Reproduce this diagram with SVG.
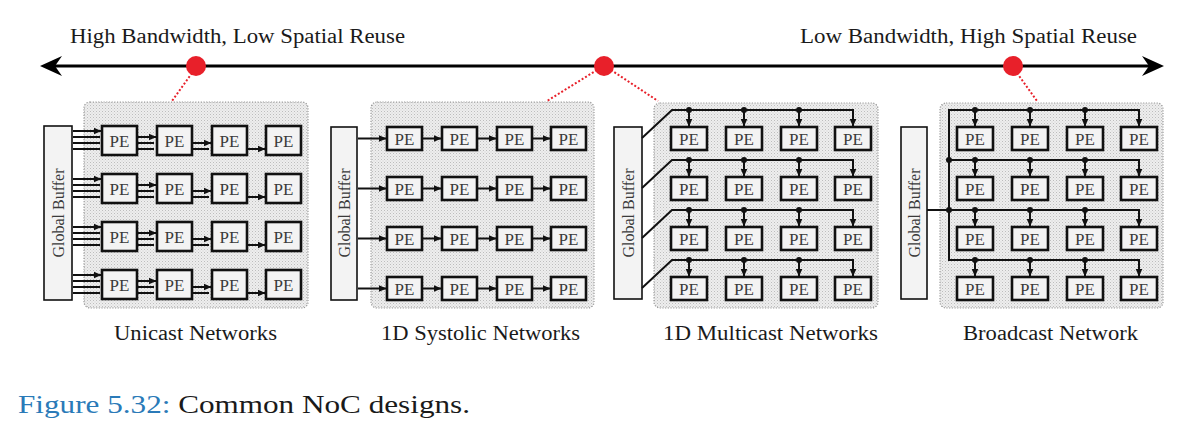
<svg xmlns="http://www.w3.org/2000/svg" width="1204" height="427" viewBox="0 0 1204 427">
<style>
.t{font-family:"Liberation Serif","Times New Roman",serif;fill:#1a1a1a}
.pe{fill:#f3f3f3;stroke:#111;stroke-width:2.6}
.pet{font-family:"Liberation Serif","Times New Roman",serif;font-size:17px;fill:#3a3a3a;text-anchor:middle}
.gb{fill:#f3f3f3;stroke:#111;stroke-width:1.6}
.gbt{font-family:"Liberation Serif","Times New Roman",serif;font-size:16px;fill:#3a3a3a;text-anchor:middle}
.bg{fill:url(#stip);stroke:#9a9a9a;stroke-width:1.2;stroke-dasharray:1.2 1.5}
.c{stroke:#111;stroke-width:2;fill:none}
.ca{stroke:#111;stroke-width:2;fill:none;marker-end:url(#ah)}
.red{stroke:#e8202a;stroke-width:2;stroke-dasharray:2 2;fill:none}
.dot{fill:#111}
</style>
<defs>
<pattern id="stip" width="3" height="3" patternUnits="userSpaceOnUse">
<rect width="3" height="3" fill="#eeeeee"/>
<rect width="1" height="1" fill="#bdbdbd"/>
<rect x="1.5" y="1.5" width="1" height="1" fill="#d0d0d0"/>
</pattern>
<marker id="ah" markerWidth="8" markerHeight="8" refX="7.5" refY="4" orient="auto" markerUnits="userSpaceOnUse">
<path d="M0,0.5 L8,4 L0,7.5 Z" fill="#111"/>
</marker>
</defs>

<g id="axis">
<line x1="52" y1="66" x2="1152" y2="66" stroke="#000" stroke-width="3"/>
<path d="M40,66 L62,56 L55,66 L62,76 Z" fill="#000"/>
<path d="M1164,66 L1142,56 L1149,66 L1142,76 Z" fill="#000"/>
<text class="t" x="70" y="43" font-size="20" textLength="335" lengthAdjust="spacingAndGlyphs">High Bandwidth, Low Spatial Reuse</text>
<text class="t" x="800" y="43" font-size="20" textLength="337" lengthAdjust="spacingAndGlyphs">Low Bandwidth, High Spatial Reuse</text>
</g>

<g id="panels">
<rect class="bg" x="84" y="102" width="224" height="206" rx="6"/>
<rect class="bg" x="371" y="102" width="223" height="206" rx="6"/>
<rect class="bg" x="654" y="103" width="224" height="205" rx="6"/>
<rect class="bg" x="940" y="103" width="223" height="205" rx="6"/>
</g>

<g id="markers-red">
<line class="red" x1="192" y1="73" x2="172" y2="101"/>
<line class="red" x1="597" y1="70" x2="547" y2="101"/>
<line class="red" x1="611" y1="70" x2="658" y2="101"/>
<line class="red" x1="1017" y1="73" x2="1037" y2="101"/>
<circle cx="196" cy="66" r="10" fill="#e8202a"/>
<circle cx="604" cy="66" r="10" fill="#e8202a"/>
<circle cx="1013" cy="66" r="10" fill="#e8202a"/>
</g>

<!-- Unicast -->
<g id="u-gb"><rect class="gb" x="44" y="126" width="28" height="174"/><text class="gbt" transform="translate(63.5,213) rotate(-90)">Global Buffer</text></g>
<g id="u-pe-1-1"><rect class="pe" x="102" y="126" width="35" height="29"/><text class="pet" x="119.5" y="146.5">PE</text></g>
<g id="u-pe-1-2"><rect class="pe" x="157" y="126" width="35" height="29"/><text class="pet" x="174.5" y="146.5">PE</text></g>
<g id="u-pe-1-3"><rect class="pe" x="212" y="126" width="35" height="29"/><text class="pet" x="229.5" y="146.5">PE</text></g>
<g id="u-pe-1-4"><rect class="pe" x="266" y="126" width="35" height="29"/><text class="pet" x="283.5" y="146.5">PE</text></g>
<g id="u-pe-2-1"><rect class="pe" x="102" y="174" width="35" height="29"/><text class="pet" x="119.5" y="194.5">PE</text></g>
<g id="u-pe-2-2"><rect class="pe" x="157" y="174" width="35" height="29"/><text class="pet" x="174.5" y="194.5">PE</text></g>
<g id="u-pe-2-3"><rect class="pe" x="212" y="174" width="35" height="29"/><text class="pet" x="229.5" y="194.5">PE</text></g>
<g id="u-pe-2-4"><rect class="pe" x="266" y="174" width="35" height="29"/><text class="pet" x="283.5" y="194.5">PE</text></g>
<g id="u-pe-3-1"><rect class="pe" x="102" y="222" width="35" height="29"/><text class="pet" x="119.5" y="242.5">PE</text></g>
<g id="u-pe-3-2"><rect class="pe" x="157" y="222" width="35" height="29"/><text class="pet" x="174.5" y="242.5">PE</text></g>
<g id="u-pe-3-3"><rect class="pe" x="212" y="222" width="35" height="29"/><text class="pet" x="229.5" y="242.5">PE</text></g>
<g id="u-pe-3-4"><rect class="pe" x="266" y="222" width="35" height="29"/><text class="pet" x="283.5" y="242.5">PE</text></g>
<g id="u-pe-4-1"><rect class="pe" x="102" y="270" width="35" height="29"/><text class="pet" x="119.5" y="290.5">PE</text></g>
<g id="u-pe-4-2"><rect class="pe" x="157" y="270" width="35" height="29"/><text class="pet" x="174.5" y="290.5">PE</text></g>
<g id="u-pe-4-3"><rect class="pe" x="212" y="270" width="35" height="29"/><text class="pet" x="229.5" y="290.5">PE</text></g>
<g id="u-pe-4-4"><rect class="pe" x="266" y="270" width="35" height="29"/><text class="pet" x="283.5" y="290.5">PE</text></g>

<!-- Systolic -->
<g id="s-gb"><rect class="gb" x="331" y="127" width="26" height="173"/><text class="gbt" transform="translate(349.5,213) rotate(-90)">Global Buffer</text></g>
<g id="s-pe-1-1"><rect class="pe" x="387" y="127" width="35" height="23"/><text class="pet" x="404.5" y="144.5">PE</text></g>
<g id="s-pe-1-2"><rect class="pe" x="442" y="127" width="35" height="23"/><text class="pet" x="459.5" y="144.5">PE</text></g>
<g id="s-pe-1-3"><rect class="pe" x="497" y="127" width="35" height="23"/><text class="pet" x="514.5" y="144.5">PE</text></g>
<g id="s-pe-1-4"><rect class="pe" x="551" y="127" width="35" height="23"/><text class="pet" x="568.5" y="144.5">PE</text></g>
<g id="s-pe-2-1"><rect class="pe" x="387" y="177" width="35" height="23"/><text class="pet" x="404.5" y="194.5">PE</text></g>
<g id="s-pe-2-2"><rect class="pe" x="442" y="177" width="35" height="23"/><text class="pet" x="459.5" y="194.5">PE</text></g>
<g id="s-pe-2-3"><rect class="pe" x="497" y="177" width="35" height="23"/><text class="pet" x="514.5" y="194.5">PE</text></g>
<g id="s-pe-2-4"><rect class="pe" x="551" y="177" width="35" height="23"/><text class="pet" x="568.5" y="194.5">PE</text></g>
<g id="s-pe-3-1"><rect class="pe" x="387" y="227" width="35" height="23"/><text class="pet" x="404.5" y="244.5">PE</text></g>
<g id="s-pe-3-2"><rect class="pe" x="442" y="227" width="35" height="23"/><text class="pet" x="459.5" y="244.5">PE</text></g>
<g id="s-pe-3-3"><rect class="pe" x="497" y="227" width="35" height="23"/><text class="pet" x="514.5" y="244.5">PE</text></g>
<g id="s-pe-3-4"><rect class="pe" x="551" y="227" width="35" height="23"/><text class="pet" x="568.5" y="244.5">PE</text></g>
<g id="s-pe-4-1"><rect class="pe" x="387" y="277" width="35" height="23"/><text class="pet" x="404.5" y="294.5">PE</text></g>
<g id="s-pe-4-2"><rect class="pe" x="442" y="277" width="35" height="23"/><text class="pet" x="459.5" y="294.5">PE</text></g>
<g id="s-pe-4-3"><rect class="pe" x="497" y="277" width="35" height="23"/><text class="pet" x="514.5" y="294.5">PE</text></g>
<g id="s-pe-4-4"><rect class="pe" x="551" y="277" width="35" height="23"/><text class="pet" x="568.5" y="294.5">PE</text></g>

<!-- Multicast -->
<g id="m-gb"><rect class="gb" x="614" y="127" width="28" height="172"/><text class="gbt" transform="translate(633.5,213) rotate(-90)">Global Buffer</text></g>
<g id="m-pe-1-1"><rect class="pe" x="671" y="127" width="36" height="23"/><text class="pet" x="689" y="144.5">PE</text></g>
<g id="m-pe-1-2"><rect class="pe" x="726" y="127" width="36" height="23"/><text class="pet" x="744" y="144.5">PE</text></g>
<g id="m-pe-1-3"><rect class="pe" x="781" y="127" width="36" height="23"/><text class="pet" x="799" y="144.5">PE</text></g>
<g id="m-pe-1-4"><rect class="pe" x="835" y="127" width="36" height="23"/><text class="pet" x="853" y="144.5">PE</text></g>
<g id="m-pe-2-1"><rect class="pe" x="671" y="177" width="36" height="23"/><text class="pet" x="689" y="194.5">PE</text></g>
<g id="m-pe-2-2"><rect class="pe" x="726" y="177" width="36" height="23"/><text class="pet" x="744" y="194.5">PE</text></g>
<g id="m-pe-2-3"><rect class="pe" x="781" y="177" width="36" height="23"/><text class="pet" x="799" y="194.5">PE</text></g>
<g id="m-pe-2-4"><rect class="pe" x="835" y="177" width="36" height="23"/><text class="pet" x="853" y="194.5">PE</text></g>
<g id="m-pe-3-1"><rect class="pe" x="671" y="227" width="36" height="23"/><text class="pet" x="689" y="244.5">PE</text></g>
<g id="m-pe-3-2"><rect class="pe" x="726" y="227" width="36" height="23"/><text class="pet" x="744" y="244.5">PE</text></g>
<g id="m-pe-3-3"><rect class="pe" x="781" y="227" width="36" height="23"/><text class="pet" x="799" y="244.5">PE</text></g>
<g id="m-pe-3-4"><rect class="pe" x="835" y="227" width="36" height="23"/><text class="pet" x="853" y="244.5">PE</text></g>
<g id="m-pe-4-1"><rect class="pe" x="671" y="277" width="36" height="23"/><text class="pet" x="689" y="294.5">PE</text></g>
<g id="m-pe-4-2"><rect class="pe" x="726" y="277" width="36" height="23"/><text class="pet" x="744" y="294.5">PE</text></g>
<g id="m-pe-4-3"><rect class="pe" x="781" y="277" width="36" height="23"/><text class="pet" x="799" y="294.5">PE</text></g>
<g id="m-pe-4-4"><rect class="pe" x="835" y="277" width="36" height="23"/><text class="pet" x="853" y="294.5">PE</text></g>

<!-- Broadcast -->
<g id="b-gb"><rect class="gb" x="901" y="127" width="26" height="172"/><text class="gbt" transform="translate(919.5,213) rotate(-90)">Global Buffer</text></g>
<g id="b-pe-1-1"><rect class="pe" x="957" y="127" width="36" height="23"/><text class="pet" x="975" y="144.5">PE</text></g>
<g id="b-pe-1-2"><rect class="pe" x="1012" y="127" width="36" height="23"/><text class="pet" x="1030" y="144.5">PE</text></g>
<g id="b-pe-1-3"><rect class="pe" x="1067" y="127" width="36" height="23"/><text class="pet" x="1085" y="144.5">PE</text></g>
<g id="b-pe-1-4"><rect class="pe" x="1121" y="127" width="36" height="23"/><text class="pet" x="1139" y="144.5">PE</text></g>
<g id="b-pe-2-1"><rect class="pe" x="957" y="177" width="36" height="23"/><text class="pet" x="975" y="194.5">PE</text></g>
<g id="b-pe-2-2"><rect class="pe" x="1012" y="177" width="36" height="23"/><text class="pet" x="1030" y="194.5">PE</text></g>
<g id="b-pe-2-3"><rect class="pe" x="1067" y="177" width="36" height="23"/><text class="pet" x="1085" y="194.5">PE</text></g>
<g id="b-pe-2-4"><rect class="pe" x="1121" y="177" width="36" height="23"/><text class="pet" x="1139" y="194.5">PE</text></g>
<g id="b-pe-3-1"><rect class="pe" x="957" y="227" width="36" height="23"/><text class="pet" x="975" y="244.5">PE</text></g>
<g id="b-pe-3-2"><rect class="pe" x="1012" y="227" width="36" height="23"/><text class="pet" x="1030" y="244.5">PE</text></g>
<g id="b-pe-3-3"><rect class="pe" x="1067" y="227" width="36" height="23"/><text class="pet" x="1085" y="244.5">PE</text></g>
<g id="b-pe-3-4"><rect class="pe" x="1121" y="227" width="36" height="23"/><text class="pet" x="1139" y="244.5">PE</text></g>
<g id="b-pe-4-1"><rect class="pe" x="957" y="277" width="36" height="23"/><text class="pet" x="975" y="294.5">PE</text></g>
<g id="b-pe-4-2"><rect class="pe" x="1012" y="277" width="36" height="23"/><text class="pet" x="1030" y="294.5">PE</text></g>
<g id="b-pe-4-3"><rect class="pe" x="1067" y="277" width="36" height="23"/><text class="pet" x="1085" y="294.5">PE</text></g>
<g id="b-pe-4-4"><rect class="pe" x="1121" y="277" width="36" height="23"/><text class="pet" x="1139" y="294.5">PE</text></g>

<g id="connectors">
<line class="ca" x1="73" y1="131" x2="101" y2="131"/><line class="c" x1="73" y1="137" x2="100" y2="137"/><line class="c" x1="73" y1="143" x2="100" y2="143"/><line class="c" x1="73" y1="149" x2="100" y2="149"/>
<line class="ca" x1="138" y1="137" x2="156" y2="137"/><line class="c" x1="138" y1="143" x2="154" y2="143"/><line class="c" x1="138" y1="149" x2="154" y2="149"/>
<line class="ca" x1="193" y1="143" x2="211" y2="143"/><line class="c" x1="193" y1="149" x2="209" y2="149"/>
<line class="ca" x1="248" y1="149" x2="265" y2="149"/>
<line class="ca" x1="73" y1="179" x2="101" y2="179"/><line class="c" x1="73" y1="185" x2="100" y2="185"/><line class="c" x1="73" y1="191" x2="100" y2="191"/><line class="c" x1="73" y1="197" x2="100" y2="197"/>
<line class="ca" x1="138" y1="185" x2="156" y2="185"/><line class="c" x1="138" y1="191" x2="154" y2="191"/><line class="c" x1="138" y1="197" x2="154" y2="197"/>
<line class="ca" x1="193" y1="191" x2="211" y2="191"/><line class="c" x1="193" y1="197" x2="209" y2="197"/>
<line class="ca" x1="248" y1="197" x2="265" y2="197"/>
<line class="ca" x1="73" y1="227" x2="101" y2="227"/><line class="c" x1="73" y1="233" x2="100" y2="233"/><line class="c" x1="73" y1="239" x2="100" y2="239"/><line class="c" x1="73" y1="245" x2="100" y2="245"/>
<line class="ca" x1="138" y1="233" x2="156" y2="233"/><line class="c" x1="138" y1="239" x2="154" y2="239"/><line class="c" x1="138" y1="245" x2="154" y2="245"/>
<line class="ca" x1="193" y1="239" x2="211" y2="239"/><line class="c" x1="193" y1="245" x2="209" y2="245"/>
<line class="ca" x1="248" y1="245" x2="265" y2="245"/>
<line class="ca" x1="73" y1="275" x2="101" y2="275"/><line class="c" x1="73" y1="281" x2="100" y2="281"/><line class="c" x1="73" y1="287" x2="100" y2="287"/><line class="c" x1="73" y1="293" x2="100" y2="293"/>
<line class="ca" x1="138" y1="281" x2="156" y2="281"/><line class="c" x1="138" y1="287" x2="154" y2="287"/><line class="c" x1="138" y1="293" x2="154" y2="293"/>
<line class="ca" x1="193" y1="287" x2="211" y2="287"/><line class="c" x1="193" y1="293" x2="209" y2="293"/>
<line class="ca" x1="248" y1="293" x2="265" y2="293"/>

<line class="ca" x1="358" y1="138.5" x2="386" y2="138.5"/><line class="ca" x1="423" y1="138.5" x2="441" y2="138.5"/><line class="ca" x1="478" y1="138.5" x2="496" y2="138.5"/><line class="ca" x1="533" y1="138.5" x2="550" y2="138.5"/>
<line class="ca" x1="358" y1="188.5" x2="386" y2="188.5"/><line class="ca" x1="423" y1="188.5" x2="441" y2="188.5"/><line class="ca" x1="478" y1="188.5" x2="496" y2="188.5"/><line class="ca" x1="533" y1="188.5" x2="550" y2="188.5"/>
<line class="ca" x1="358" y1="238.5" x2="386" y2="238.5"/><line class="ca" x1="423" y1="238.5" x2="441" y2="238.5"/><line class="ca" x1="478" y1="238.5" x2="496" y2="238.5"/><line class="ca" x1="533" y1="238.5" x2="550" y2="238.5"/>
<line class="ca" x1="358" y1="288.5" x2="386" y2="288.5"/><line class="ca" x1="423" y1="288.5" x2="441" y2="288.5"/><line class="ca" x1="478" y1="288.5" x2="496" y2="288.5"/><line class="ca" x1="533" y1="288.5" x2="550" y2="288.5"/>

<path class="ca" d="M642,138 L672,110 L853,110 L853,126"/>
<line class="ca" x1="689" y1="110" x2="689" y2="126"/><line class="ca" x1="744" y1="110" x2="744" y2="126"/><line class="ca" x1="799" y1="110" x2="799" y2="126"/>
<circle class="dot" cx="689" cy="110" r="3"/><circle class="dot" cx="744" cy="110" r="3"/><circle class="dot" cx="799" cy="110" r="3"/>
<path class="ca" d="M642,188 L672,160 L853,160 L853,176"/>
<line class="ca" x1="689" y1="160" x2="689" y2="176"/><line class="ca" x1="744" y1="160" x2="744" y2="176"/><line class="ca" x1="799" y1="160" x2="799" y2="176"/>
<circle class="dot" cx="689" cy="160" r="3"/><circle class="dot" cx="744" cy="160" r="3"/><circle class="dot" cx="799" cy="160" r="3"/>
<path class="ca" d="M642,238 L672,210 L853,210 L853,226"/>
<line class="ca" x1="689" y1="210" x2="689" y2="226"/><line class="ca" x1="744" y1="210" x2="744" y2="226"/><line class="ca" x1="799" y1="210" x2="799" y2="226"/>
<circle class="dot" cx="689" cy="210" r="3"/><circle class="dot" cx="744" cy="210" r="3"/><circle class="dot" cx="799" cy="210" r="3"/>
<path class="ca" d="M642,288 L672,260 L853,260 L853,276"/>
<line class="ca" x1="689" y1="260" x2="689" y2="276"/><line class="ca" x1="744" y1="260" x2="744" y2="276"/><line class="ca" x1="799" y1="260" x2="799" y2="276"/>
<circle class="dot" cx="689" cy="260" r="3"/><circle class="dot" cx="744" cy="260" r="3"/><circle class="dot" cx="799" cy="260" r="3"/>

<line class="c" x1="949" y1="109" x2="949" y2="261"/>
<line class="c" x1="927" y1="210" x2="949" y2="210"/>
<circle class="dot" cx="949" cy="160" r="3"/><circle class="dot" cx="949" cy="210" r="3"/>
<path class="ca" d="M948,110 L1139,110 L1139,126"/>
<line class="ca" x1="975" y1="110" x2="975" y2="126"/><line class="ca" x1="1030" y1="110" x2="1030" y2="126"/><line class="ca" x1="1085" y1="110" x2="1085" y2="126"/>
<circle class="dot" cx="975" cy="110" r="3"/><circle class="dot" cx="1030" cy="110" r="3"/><circle class="dot" cx="1085" cy="110" r="3"/>
<path class="ca" d="M949,160 L1139,160 L1139,176"/>
<line class="ca" x1="975" y1="160" x2="975" y2="176"/><line class="ca" x1="1030" y1="160" x2="1030" y2="176"/><line class="ca" x1="1085" y1="160" x2="1085" y2="176"/>
<circle class="dot" cx="975" cy="160" r="3"/><circle class="dot" cx="1030" cy="160" r="3"/><circle class="dot" cx="1085" cy="160" r="3"/>
<path class="ca" d="M949,210 L1139,210 L1139,226"/>
<line class="ca" x1="975" y1="210" x2="975" y2="226"/><line class="ca" x1="1030" y1="210" x2="1030" y2="226"/><line class="ca" x1="1085" y1="210" x2="1085" y2="226"/>
<circle class="dot" cx="975" cy="210" r="3"/><circle class="dot" cx="1030" cy="210" r="3"/><circle class="dot" cx="1085" cy="210" r="3"/>
<path class="ca" d="M948,260 L1139,260 L1139,276"/>
<line class="ca" x1="975" y1="260" x2="975" y2="276"/><line class="ca" x1="1030" y1="260" x2="1030" y2="276"/><line class="ca" x1="1085" y1="260" x2="1085" y2="276"/>
<circle class="dot" cx="975" cy="260" r="3"/><circle class="dot" cx="1030" cy="260" r="3"/><circle class="dot" cx="1085" cy="260" r="3"/>
</g>

<g id="labels">
<text class="t" x="114" y="340" font-size="20" textLength="163" lengthAdjust="spacingAndGlyphs">Unicast Networks</text>
<text class="t" x="381" y="340" font-size="20" textLength="199" lengthAdjust="spacingAndGlyphs">1D Systolic Networks</text>
<text class="t" x="663" y="340" font-size="20" textLength="215" lengthAdjust="spacingAndGlyphs">1D Multicast Networks</text>
<text class="t" x="963" y="340" font-size="20" textLength="175" lengthAdjust="spacingAndGlyphs">Broadcast Network</text>
<text x="18" y="413" font-family="Liberation Serif, serif" font-size="26" textLength="452" lengthAdjust="spacingAndGlyphs"><tspan fill="#2a7ab8">Figure 5.32:</tspan><tspan fill="#1a1a1a"> Common NoC designs.</tspan></text>
</g>
</svg>
